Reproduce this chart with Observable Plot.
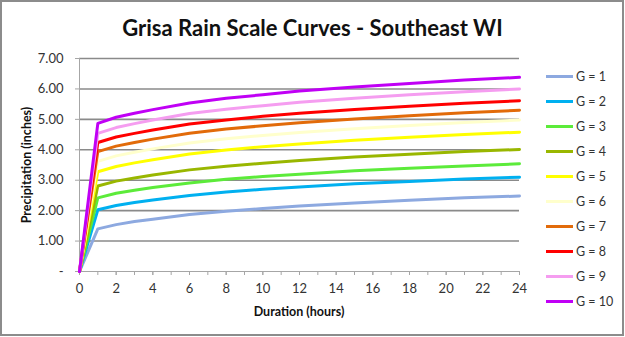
<!DOCTYPE html>
<html>
<head>
<meta charset="utf-8">
<script src="https://cdn.jsdelivr.net/npm/d3@7"></script>
<script src="https://cdn.jsdelivr.net/npm/@observablehq/plot@0.6"></script>
<style>
  html, body { margin: 0; padding: 0; background: #fff; }
  #wrap { position: relative; width: 625px; height: 337px; font-family: Lato, "Open Sans", sans-serif; }
  #frame { position: absolute; left: 0; top: 0; width: 620px; height: 332px; border: 2px solid #8c8c8c; box-sizing: content-box; pointer-events: none; }
  #title { position: absolute; left: 0; width: 625px; top: 14px; text-align: center; font-size: 22px; font-weight: bold; color: #111; }
  #ytitle { position: absolute; left: 26px; top: 165px; transform: translate(-50%, -50%) rotate(-90deg); white-space: nowrap; font-size: 12.5px; font-weight: bold; color: #111; }
  #xtitle { position: absolute; left: 299px; top: 311px; transform: translate(-50%, -50%); white-space: nowrap; font-size: 12.5px; font-weight: bold; color: #111; }
  #legend { position: absolute; left: 546px; top: 66px; }
  .item { position: absolute; left: 0; height: 20px; display: flex; align-items: center; font-size: 12.5px; color: #333; white-space: nowrap; }
  .sw { display: inline-block; width: 27px; height: 3px; margin-right: 3px; }
  svg { position: absolute; left: 0; top: 0; }
</style>
</head>
<body>
<div id="wrap">
  <div id="title">Grisa Rain Scale Curves - Southeast WI</div>
  <div id="ytitle">Precipitation (inches)</div>
  <div id="xtitle">Duration (hours)</div>
  <div id="legend"></div>
  <div id="frame"></div>
</div>
<script>
// ---- Data ----
const hours = [0, 1, 2, 3, 4, 6, 8, 10, 12, 15, 18, 21, 24];
const g1  = [0, 1.40, 1.54, 1.64, 1.72, 1.87, 1.98, 2.07, 2.15, 2.25, 2.34, 2.42, 2.48];
const g2  = [0, 2.03, 2.17, 2.27, 2.35, 2.50, 2.61, 2.70, 2.78, 2.88, 2.96, 3.04, 3.10];
const g3  = [0, 2.42, 2.57, 2.67, 2.76, 2.91, 3.03, 3.12, 3.20, 3.31, 3.39, 3.47, 3.54];
const g4  = [0, 2.81, 2.97, 3.07, 3.17, 3.34, 3.46, 3.56, 3.65, 3.76, 3.85, 3.94, 4.01];
const g5  = [0, 3.28, 3.45, 3.57, 3.67, 3.86, 3.99, 4.10, 4.19, 4.31, 4.41, 4.50, 4.58];
const g6  = [0, 3.62, 3.80, 3.92, 4.03, 4.22, 4.36, 4.47, 4.57, 4.69, 4.80, 4.90, 4.98];
const g7  = [0, 3.94, 4.12, 4.24, 4.35, 4.54, 4.68, 4.79, 4.89, 5.01, 5.12, 5.22, 5.30];
const g8  = [0, 4.24, 4.42, 4.54, 4.65, 4.85, 4.98, 5.10, 5.20, 5.32, 5.43, 5.53, 5.61];
const g9  = [0, 4.54, 4.73, 4.86, 4.98, 5.19, 5.33, 5.45, 5.56, 5.69, 5.81, 5.91, 6.00];
const g10 = [0, 4.87, 5.07, 5.20, 5.32, 5.54, 5.69, 5.81, 5.93, 6.06, 6.18, 6.29, 6.38];
const seriesNames = ["G = 1", "G = 2", "G = 3", "G = 4", "G = 5", "G = 6", "G = 7", "G = 8", "G = 9", "G = 10"];
const seriesColors = ["#8DA9E0", "#00B0F0", "#5CEB3A", "#99B700", "#FFFF00", "#FFFFCC", "#E26B0A", "#FF0000", "#F59DF0", "#C000F5"];
const yTicks = [0, 1, 2, 3, 4, 5, 6, 7];
const yTickLabels = ["-", "1.00", "2.00", "3.00", "4.00", "5.00", "6.00", "7.00"];
const xTicks = [0, 2, 4, 6, 8, 10, 12, 14, 16, 18, 20, 22, 24];
const xMinorTicks = d3.range(0, 25, 1);

const allSeries = [g1, g2, g3, g4, g5, g6, g7, g8, g9, g10];
const data = [];
allSeries.forEach((vals, i) => {
  vals.forEach((v, j) => data.push({series: seriesNames[i], hour: hours[j], value: v}));
});

const chart = Plot.plot({
  width: 625,
  height: 337,
  marginLeft: 79,
  marginRight: 106,
  marginTop: 58,
  marginBottom: 66,
  style: {fontFamily: "Lato, 'Open Sans', sans-serif", fontSize: "13px", color: "#333", background: "transparent"},
  x: {domain: [0, 24]},
  y: {domain: [0, 7]},
  color: {domain: seriesNames, range: seriesColors},
  marks: [
    Plot.gridY(yTicks.filter(d => d > 0), {stroke: "#8a8a8a", strokeOpacity: 1, strokeWidth: 1.6}),
    Plot.ruleY([0], {stroke: "#a6a6a6", strokeWidth: 1}),
    Plot.ruleX([0], {stroke: "#a6a6a6", strokeWidth: 1}),
    Plot.axisY({ticks: yTicks, tickFormat: (d) => yTickLabels[yTicks.indexOf(d)], tickSize: 4, tickPadding: 12, label: null, stroke: "#a6a6a6", fill: "#333", fontSize: 13}),
    Plot.axisX({ticks: xMinorTicks, tickFormat: () => "", tickSize: 4, label: null, stroke: "#a6a6a6"}),
    Plot.axisX({ticks: xTicks, tickSize: 4, tickPadding: 8, label: null, stroke: "#a6a6a6", fill: "#333", fontSize: 13}),
    Plot.line(data, {x: "hour", y: "value", z: "series", stroke: "series", strokeWidth: 3, strokeLinejoin: "round"})
  ]
});
document.getElementById("wrap").insertBefore(chart, document.getElementById("title"));

const legend = document.getElementById("legend");
seriesNames.forEach((name, i) => {
  const item = document.createElement("div");
  item.className = "item";
  item.style.top = (i * 25) + "px";
  const sw = document.createElement("span");
  sw.className = "sw";
  sw.style.background = seriesColors[i];
  item.appendChild(sw);
  item.appendChild(document.createTextNode(name));
  legend.appendChild(item);
});
</script>
</body>
</html>
